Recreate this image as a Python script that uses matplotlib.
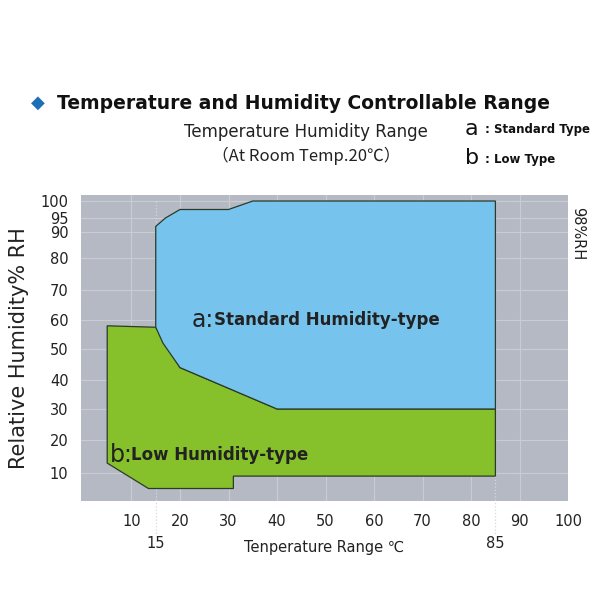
import numpy as np
import matplotlib.pyplot as plt
from matplotlib.patches import Polygon

# y axis in the chart is not linear: map %RH values onto pixel-like positions
rh_ticks = [0, 10, 20, 30, 40, 50, 60, 70, 80, 90, 95, 100]
rh_pos = [96, 127, 160, 191, 220, 251, 280, 310, 342, 368, 382, 399]

x_ticks = [10, 20, 30, 40, 50, 60, 70, 80, 90, 100]
x_marks = [15, 85]

# low humidity region (green)
low_t = [5, 15, 20, 40, 85, 85, 31, 31, 13.5, 5]
low_rh = [58, 57.5, 44, 30, 30, 9, 9, 5, 5, 13]
# standard humidity region (blue)
std_t = [15, 15, 17, 20, 30, 35, 85, 85, 40, 20, 16.5]
std_rh = [57.5, 92, 95, 97.5, 97.5, 100, 100, 30, 30, 44, 52]


def ry(v):
    return np.interp(v, rh_ticks, rh_pos)


fig = plt.figure(figsize=(6, 6), dpi=100)
ax = fig.add_axes([0.135, 0.165, 0.812, 0.51])
ax.set_facecolor('#b4b9c3')
ax.set_xlim(-0.4, 100)
ax.set_ylim(99, 405)
for t in x_ticks:
    ax.axvline(t, color='#c9ccd3', lw=0.8, zorder=0)
for v in rh_ticks[1:]:
    ax.axhline(ry(v), color='#c9ccd3', lw=0.8, zorder=0)

ax.add_patch(Polygon(np.column_stack([low_t, ry(low_rh)]), closed=True,
                     facecolor='#86c12b', edgecolor='#2c3a2a', lw=0.9, zorder=2))
ax.add_patch(Polygon(np.column_stack([std_t, ry(std_rh)]), closed=True,
                     facecolor='#76c4ee', edgecolor='#2c3a2a', lw=0.9, zorder=2))

ax.text(22.5, ry(60), 'a:', fontsize=17, va='center', color='#222', zorder=3)
ax.text(27, ry(60), 'Standard Humidity-type', fontsize=12, fontweight='bold',
        va='center', color='#222', zorder=3)
ax.text(5.5, ry(15.5), 'b:', fontsize=17, va='center', color='#222', zorder=3)
ax.text(10, ry(15.5), 'Low Humidity-type', fontsize=12, fontweight='bold',
        va='center', color='#222', zorder=3)

for s in ax.spines.values():
    s.set_visible(False)
ax.set_xticks(x_ticks)
ax.set_xticklabels([str(t) for t in x_ticks], fontsize=10.5, color='#222')
ax.set_yticks(ry(rh_ticks[1:]))
ax.set_yticklabels([str(v) for v in rh_ticks[1:]], fontsize=10.5, color='#222')
ax.tick_params(length=0, pad=9)
for t in x_marks:
    ax.plot([t, t], [ry(100), 66], ls=':', color='#d8d8d8', lw=0.9,
            clip_on=False, zorder=1.5)
    ax.text(t, 57, str(t), ha='center', va='center', fontsize=10.5, color='#222')

ax.set_ylabel('Relative Humidity% RH', fontsize=15, color='#222', labelpad=8)
fig.text(0.54, 0.087, 'Tenperature Range ℃', ha='center', va='center',
         fontsize=10.5, color='#222')
fig.text(0.963, 0.61, '98%RH', rotation=270, ha='center', va='center',
         fontsize=10.5, color='#222')

fig.text(0.063, 0.828, '◆', color='#1f6fb6', fontsize=13, ha='center', va='center')
fig.text(0.095, 0.828, 'Temperature and Humidity Controllable Range',
         fontsize=13.5, fontweight='bold', va='center', color='#111')
fig.text(0.51, 0.78, 'Temperature Humidity Range', ha='center', va='center',
         fontsize=12, color='#222')
fig.text(0.51, 0.74, '（At Room Temp.20℃）', ha='center', va='center',
         fontsize=12, color='#222', family=['Noto Sans CJK SC', 'DejaVu Sans'])
fig.text(0.775, 0.785, 'a', fontsize=16, va='center', color='#111')
fig.text(0.808, 0.785, ': Standard Type', fontsize=8.5, fontweight='bold',
         va='center', color='#111')
fig.text(0.775, 0.737, 'b', fontsize=16, va='center', color='#111')
fig.text(0.808, 0.735, ': Low Type', fontsize=8.5, fontweight='bold',
         va='center', color='#111')

fig.savefig('out.png', dpi=100, facecolor='white')
